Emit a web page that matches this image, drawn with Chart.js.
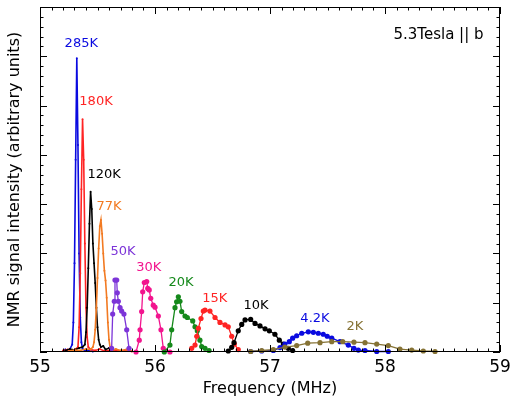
<!DOCTYPE html>
<html>
<head>
<meta charset="utf-8">
<script src="https://cdn.jsdelivr.net/npm/chart.js@4.4.0/dist/chart.umd.min.js"></script>
<style>
  html, body { margin: 0; padding: 0; background: #fff; }
  #wrap { width: 518px; height: 401px; }
</style>
</head>
<body>
<div id="wrap"><canvas id="nmrChart"></canvas></div>
<script>
// spectra: frequency (MHz) and intensity (arb. units)
var f285 = [55.20, 55.22, 55.24, 55.26, 55.28, 55.29, 55.30, 55.31, 55.32, 55.33, 55.34, 55.35, 55.36, 55.37, 55.39, 55.42, 55.46];
var v285 = [0.02, 0.05, 0.02, 0.06, 0.15, 0.6, 1.8, 3.9, 5.96, 4.2, 2.0, 0.7, 0.2, 0.06, 0.03, 0.04, 0.01];

var f180 = [55.20, 55.24, 55.28, 55.31, 55.33, 55.34, 55.35, 55.36, 55.37, 55.38, 55.39, 55.40, 55.41, 55.42, 55.44, 55.48, 55.52, 55.56, 55.62, 55.68, 55.74, 55.80];
var v180 = [0.03, 0.05, 0.02, 0.06, 0.1, 0.5, 1.6, 3.3, 4.72, 3.9, 2.2, 0.9, 0.3, 0.1, 0.05, 0.03, 0.06, 0.02, 0.04, 0.02, 0.03, 0.01];

var f120 = [55.22, 55.26, 55.30, 55.34, 55.37, 55.39, 55.40, 55.41, 55.42, 55.43, 55.44, 55.45, 55.46, 55.47, 55.48, 55.49, 55.50, 55.51, 55.52, 55.53, 55.55, 55.57, 55.60, 55.63];
var v120 = [0.03, 0.06, 0.04, 0.08, 0.1, 0.15, 0.4, 0.9, 1.7, 2.6, 3.25, 2.9, 2.2, 1.8, 1.4, 0.9, 0.5, 0.25, 0.15, 0.1, 0.12, 0.05, 0.08, 0.03];

var f77 = [55.25, 55.30, 55.35, 55.40, 55.44, 55.46, 55.47, 55.48, 55.49, 55.50, 55.51, 55.52, 55.53, 55.54, 55.55, 55.56, 55.57, 55.58, 55.59, 55.60, 55.61, 55.63, 55.66, 55.70, 55.75, 55.80];
var v77 = [0.02, 0.04, 0.03, 0.06, 0.05, 0.1, 0.2, 0.45, 0.9, 1.5, 2.1, 2.55, 2.68, 2.4, 2.0, 1.65, 1.45, 1.1, 0.6, 0.25, 0.08, 0.04, 0.06, 0.03, 0.05, 0.02];

var f50 = [55.623, 55.632, 55.646, 55.652, 55.667, 55.672, 55.681, 55.696, 55.710, 55.730, 55.754, 55.774];
var v50 = [0.075, 0.77, 1.03, 1.46, 1.46, 1.2, 1.03, 0.9, 0.83, 0.77, 0.45, 0.075];

var f30 = [55.835, 55.863, 55.870, 55.884, 55.893, 55.907, 55.928, 55.937, 55.950, 55.963, 55.985, 56.000, 56.029, 56.052, 56.072, 56.130];
var v30 = [0, 0.24, 0.45, 0.82, 1.22, 1.41, 1.43, 1.29, 1.26, 1.09, 0.95, 0.91, 0.73, 0.45, 0.075, 0];

var f20 = [56.081, 56.130, 56.145, 56.174, 56.188, 56.203, 56.217, 56.232, 56.261, 56.281, 56.328, 56.348, 56.368, 56.391, 56.406, 56.435, 56.470];
var v20 = [0, 0.14, 0.45, 0.9, 1.02, 1.12, 1.03, 0.82, 0.73, 0.70, 0.63, 0.51, 0.43, 0.24, 0.11, 0.075, 0.03];

var f15 = [56.319, 56.348, 56.363, 56.377, 56.400, 56.420, 56.435, 56.478, 56.522, 56.565, 56.609, 56.637, 56.667, 56.690, 56.724];
var v15 = [0.075, 0.14, 0.32, 0.48, 0.68, 0.83, 0.85, 0.83, 0.70, 0.60, 0.55, 0.51, 0.32, 0.16, 0.05];

var f10 = [56.637, 56.667, 56.687, 56.724, 56.754, 56.783, 56.832, 56.870, 56.913, 56.957, 56.994, 57.043, 57.081, 57.116, 57.159, 57.197];
var v10 = [0.02, 0.095, 0.19, 0.43, 0.56, 0.65, 0.66, 0.58, 0.53, 0.47, 0.43, 0.36, 0.24, 0.16, 0.075, 0.03];

var f4 = [56.832, 56.928, 57.029, 57.087, 57.130, 57.168, 57.197, 57.232, 57.276, 57.333, 57.377, 57.420, 57.463, 57.498, 57.537, 57.609, 57.681, 57.730, 57.768, 57.826, 57.928, 58.029];
var v4 = [0.01, 0.02, 0.03, 0.09, 0.16, 0.21, 0.28, 0.33, 0.38, 0.41, 0.40, 0.38, 0.36, 0.32, 0.28, 0.21, 0.14, 0.075, 0.04, 0.03, 0.01, 0.01];

var f2 = [56.832, 56.928, 57.029, 57.130, 57.232, 57.328, 57.435, 57.537, 57.632, 57.730, 57.826, 57.928, 58.029, 58.130, 58.232, 58.333, 58.435];
var v2 = [0.01, 0.03, 0.05, 0.10, 0.13, 0.18, 0.19, 0.21, 0.21, 0.20, 0.19, 0.16, 0.13, 0.06, 0.04, 0.02, 0.01];

// x axis tick labels
var xTicks = [55, 56, 57, 58, 59];

// temperature tags, placed in data coordinates
var tagText = ["285K", "180K", "120K", "77K", "50K", "30K", "20K", "15K", "10K", "4.2K", "2K"];
var tagX = [55.359, 55.487, 55.557, 55.600, 55.722, 55.946, 56.226, 56.519, 56.878, 57.391, 57.739];
var tagY = [6.26, 5.09, 3.59, 2.94, 2.04, 1.72, 1.40, 1.09, 0.95, 0.684, 0.517];

var BLUE = "#0a0ae0", RED = "#ff2424", BLACK = "#000000", ORANGE = "#f27a22",
    PURPLE = "#7c34d8", PINK = "#f2158e", GREEN = "#15891b", OLIVE = "#857234";
var tagColor = [BLUE, RED, BLACK, ORANGE, PURPLE, PINK, GREEN, RED, BLACK, BLUE, OLIVE];

function pts(fs, vs) {
  return fs.map(function (f, i) { return { x: f, y: vs[i] }; });
}

function series(name, fs, vs, color, dotted) {
  return {
    label: name,
    data: pts(fs, vs),
    showLine: true,
    borderColor: color,
    backgroundColor: color,
    borderWidth: dotted ? 1.3 : 1.6,
    pointRadius: dotted ? 2.6 : 1,
    pointBorderWidth: 0,
    clip: false
  };
}

var FONT = "'DejaVu Sans', Verdana, sans-serif";

// frame with inward ticks on all four sides
var frameTicks = {
  id: "frameTicks",
  afterDatasetsDraw: function (chart) {
    var ctx = chart.ctx, a = chart.chartArea, sx = chart.scales.x, sy = chart.scales.y;
    ctx.save();
    ctx.strokeStyle = "#000";
    ctx.lineWidth = 1;
    ctx.strokeRect(a.left + 0.5, a.top + 0.5, a.right - a.left - 1, a.bottom - a.top - 1);
    ctx.beginPath();
    for (var i = 0; i <= 40; i++) {
      var px = Math.round(sx.getPixelForValue(55 + i / 10)) + 0.5;
      var len = (i % 10 === 0) ? 7 : 3.5;
      ctx.moveTo(px, a.bottom); ctx.lineTo(px, a.bottom - len);
      ctx.moveTo(px, a.top); ctx.lineTo(px, a.top + len);
    }
    for (var j = 0; j <= 35; j++) {
      var py = Math.round(sy.getPixelForValue(j / 5)) + 0.5;
      var l2 = (j % 5 === 0) ? 7 : 3.5;
      ctx.moveTo(a.left, py); ctx.lineTo(a.left + l2, py);
      ctx.moveTo(a.right, py); ctx.lineTo(a.right - l2, py);
    }
    ctx.stroke();

    ctx.textAlign = "center";
    ctx.textBaseline = "middle";
    ctx.font = "13px " + FONT;
    for (var k = 0; k < tagText.length; k++) {
      ctx.fillStyle = tagColor[k];
      ctx.fillText(tagText[k], sx.getPixelForValue(tagX[k]), sy.getPixelForValue(tagY[k]));
    }
    ctx.fillStyle = "#000";
    ctx.font = "15px " + FONT;
    ctx.fillText("5.3Tesla || b", sx.getPixelForValue(58.465), sy.getPixelForValue(6.43));
    ctx.restore();
  }
};

var nmrChart = new Chart(document.getElementById("nmrChart").getContext("2d"), {
  type: "scatter",
  data: {
    datasets: [
      series("2K", f2, v2, OLIVE, true),
      series("4.2K", f4, v4, BLUE, true),
      series("10K", f10, v10, BLACK, true),
      series("15K", f15, v15, RED, true),
      series("20K", f20, v20, GREEN, true),
      series("30K", f30, v30, PINK, true),
      series("50K", f50, v50, PURPLE, true),
      series("77K", f77, v77, ORANGE, false),
      series("120K", f120, v120, BLACK, false),
      series("180K", f180, v180, RED, false),
      series("285K", f285, v285, BLUE, false)
    ]
  },
  options: {
    responsive: true,
    maintainAspectRatio: false,
    animation: false,
    events: [],
    layout: { padding: { top: 7, right: 18, left: 0, bottom: 0 } },
    plugins: {
      legend: { display: false },
      tooltip: { enabled: false }
    },
    scales: {
      x: {
        type: "linear",
        min: 55,
        max: 59,
        afterBuildTicks: function (scale) {
          scale.ticks = xTicks.map(function (v) { return { value: v }; });
        },
        afterFit: function (scale) { scale.height = 49; },
        grid: { display: false, drawTicks: false, tickLength: 0 },
        border: { display: false },
        ticks: { color: "#000", font: { family: FONT, size: 17 }, padding: 5, maxRotation: 0 },
        title: {
          display: true,
          text: "Frequency (MHz)",
          color: "#000",
          font: { family: FONT, size: 16 },
          padding: { top: 0, bottom: 3 }
        }
      },
      y: {
        type: "linear",
        min: 0,
        max: 7,
        afterFit: function (scale) { scale.width = 40; },
        grid: { display: false },
        border: { display: false },
        ticks: { display: false },
        title: {
          display: true,
          text: "NMR signal intensity (arbitrary units)",
          color: "#000",
          font: { family: FONT, size: 16 },
          padding: { top: 5, bottom: 0 }
        }
      }
    }
  },
  plugins: [frameTicks]
});
</script>
</body>
</html>
